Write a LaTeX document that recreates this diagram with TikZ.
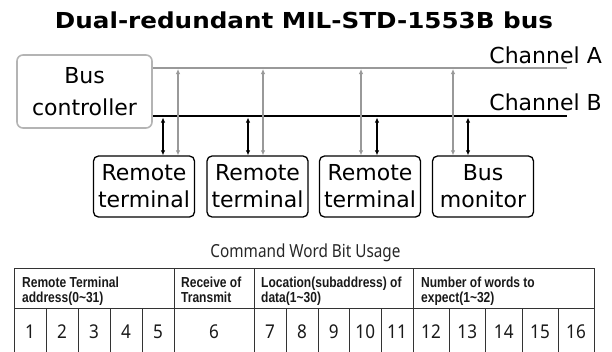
\documentclass[tikz,border=0pt]{standalone}
\usepackage{fontspec}
\setmainfont{DejaVu Sans}
\newfontfamily\titlefont[FakeStretch=1.12]{DejaVu Sans}
\newfontfamily\tblfont[FakeStretch=0.85]{Noto Sans}
\newfontfamily\numfont[FakeStretch=0.9]{Noto Sans}
\newfontfamily\hdrfont{Liberation Sans}
\usetikzlibrary{arrows.meta}
\definecolor{busgray}{HTML}{999999}
\definecolor{boxgray}{HTML}{B4B4B4}
\definecolor{tblline}{HTML}{333333}
\begin{document}
\begin{tikzpicture}[x=1pt,y=-1pt,
  term/.style={draw=black, line width=1.3pt, rounded corners=5pt, minimum width=101pt, minimum height=61pt, inner sep=0pt, align=center, font=\fontsize{22}{27}\selectfont},
  ctrl/.style={draw=boxgray, line width=1.6pt, rounded corners=6pt, minimum width=135pt, minimum height=73pt, inner sep=0pt, align=center, font=\fontsize{22}{32}\selectfont},
  chlabel/.style={anchor=base east, inner sep=0pt, font=\fontsize{22}{26}\selectfont},
  lineA/.style={draw=busgray, line width=2pt},
  lineB/.style={draw=black, line width=2.8pt},
  garrow/.style={draw=busgray, line width=1.2pt, {Latex[length=5pt,width=4.5pt]}-{Latex[length=5pt,width=4.5pt]}},
  barrow/.style={draw=black, line width=1.2pt, {Latex[length=5pt,width=4.5pt]}-{Latex[length=5pt,width=4.5pt]}},
  grid/.style={draw=tblline, line width=0.9pt},
  hdr/.style={anchor=base west, inner sep=0pt, xscale=0.83, transform shape, text=black!90, font=\hdrfont\bfseries\fontsize{14.5}{16}\selectfont},
  num/.style={anchor=base, inner sep=0pt, text=black!90, font=\numfont\fontsize{19}{21}\selectfont},
  captext/.style={anchor=base, inner sep=0pt, text=black!85, font=\tblfont\fontsize{18}{20}\selectfont}
]
\useasboundingbox (0,0) rectangle (612,351);

% title
\node[anchor=base, inner sep=0pt, font=\titlefont\bfseries\fontsize{22}{26}\selectfont] (title) at (304,28) {Dual-redundant MIL-STD-1553B bus};

% bus controller and terminals
\node[ctrl] (bc) at (84.5,91.5) {Bus\\controller};
\node[term] (t1) at (144,186.5) {Remote\\terminal};
\node[term] (t2) at (257.5,186.5) {Remote\\terminal};
\node[term] (t3) at (370,186.5) {Remote\\terminal};
\node[term] (bm) at (483,186.5) {Bus\\monitor};

% buses
\coordinate (aEnd) at (567,68);
\coordinate (bEnd) at (567,116);
\draw[lineA] (bc.east |- aEnd) -- (aEnd);
\draw[lineB] (bc.east |- bEnd) -- (bEnd);
\node[chlabel] (chA) at (602,63) {Channel A};
\node[chlabel] (chB) at (602,110) {Channel B};

% stubs on channel A
\coordinate (a1) at (178,69);
\coordinate (a2) at (263,69);
\coordinate (a3) at (361,69);
\coordinate (a4) at (453,69);
% stubs on channel B
\coordinate (b1) at (163,117.5);
\coordinate (b2) at (248,117.5);
\coordinate (b3) at (377,117.5);
\coordinate (b4) at (468,117.5);

\draw[garrow] (a1) -- (a1 |- t1.north);
\draw[garrow] (a2) -- (a2 |- t2.north);
\draw[garrow] (a3) -- (a3 |- t3.north);
\draw[garrow] (a4) -- (a4 |- bm.north);
\draw[barrow] (b1) -- (b1 |- t1.north);
\draw[barrow] (b2) -- (b2 |- t2.north);
\draw[barrow] (b3) -- (b3 |- t3.north);
\draw[barrow] (b4) -- (b4 |- bm.north);

% table caption
\node[captext] (caption) at (305.5,257) {Command Word Bit Usage};

% table grid
\draw[grid] (14,268) -- (594,268);
\draw[grid] (14,308) -- (594,308);
\foreach \x in {14,174,254,413,594} {\draw[grid] (\x,268) -- (\x,352);}
\foreach \x in {46,78,110,142,286,318,349.5,381,449,485.5,522,558} {\draw[grid] (\x,308) -- (\x,352);}

% header texts
\node[hdr] (h1a) at (22,287) {Remote Terminal};
\node[hdr] (h1b) at (22,302) {address(0\textasciitilde31)};
\node[hdr] (h2a) at (181,287) {Receive of};
\node[hdr] (h2b) at (181,302) {Transmit};
\node[hdr] (h3a) at (261,287) {Location(subaddress) of};
\node[hdr] (h3b) at (261,302) {data(1\textasciitilde30)};
\node[hdr] (h4a) at (421,287) {Number of words to};
\node[hdr] (h4b) at (421,302) {expect(1\textasciitilde32)};

% bit numbers
\node[num] (n1) at (30,338) {1};
\node[num] (n2) at (62,338) {2};
\node[num] (n3) at (94,338) {3};
\node[num] (n4) at (126,338) {4};
\node[num] (n5) at (158,338) {5};
\node[num] (n6) at (214,338) {6};
\node[num] (n7) at (270,338) {7};
\node[num] (n8) at (302,338) {8};
\node[num] (n9) at (333.75,338) {9};
\node[num] (n10) at (365.25,338) {10};
\node[num] (n11) at (397,338) {11};
\node[num] (n12) at (431,338) {12};
\node[num] (n13) at (467.25,338) {13};
\node[num] (n14) at (503.75,338) {14};
\node[num] (n15) at (540,338) {15};
\node[num] (n16) at (576,338) {16};
\end{tikzpicture}
\end{document}
